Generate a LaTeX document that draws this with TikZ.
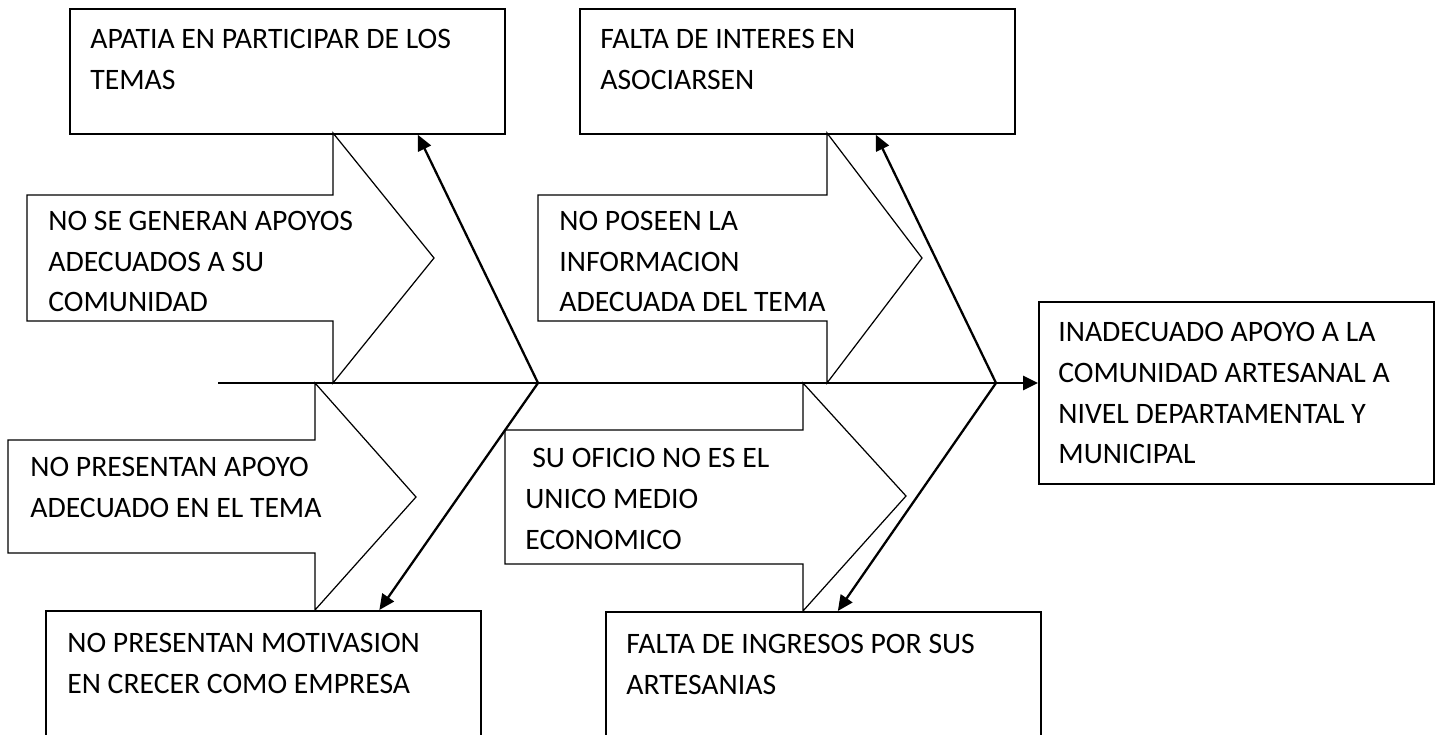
\documentclass[tikz,border=0pt]{standalone}
\usepackage{fontspec}
\setmainfont{Carlito}
\usetikzlibrary{arrows.meta,calc}

\begin{document}
\begin{tikzpicture}[x=0.02cm, y=-0.02cm,
  caja/.style={shape=rectangle, draw=black, line width=1pt, anchor=north west, inner sep=0, minimum width=8.7cm, minimum height=2.5cm},
  texto/.style={anchor=north west, inner sep=0, align=left, font=\fontsize{16.9}{23.3}\selectfont},
  flecha/.style={draw=black, line width=0.7pt, line join=miter},
  espina/.style={-{Triangle[length=0.31cm, width=0.28cm]}, line width=1.3pt, draw=black}]
\useasboundingbox (0,0) rectangle (1437,734);
% cajas
\node[caja] (A) at (69,8) {};
\node[caja] (B) at (579,8) {};
\node[caja] (C) at (45,610) {};
\node[caja] (D) at (605,611) {};
\node[caja, minimum width=7.9cm, minimum height=3.64cm] (E) at (1038,301) {};
% flechas de causas
\draw[flecha] (333,133) -- (434,258) -- (333,383) -- (333,321) -- (27,321) -- (27,195) -- (333,195) -- cycle;
\draw[flecha] (827,133) -- (922,258) -- (827,383) -- (827,321) -- (538,321) -- (538,195) -- (827,195) -- cycle;
\draw[flecha] (315,383) -- (416,497) -- (315,610) -- (315,553) -- (8,553) -- (8,440) -- (315,440) -- cycle;
\draw[flecha] (803,383) -- (906,496) -- (803,611) -- (803,564) -- (505,564) -- (505,430) -- (803,430) -- cycle;
% textos
\node[texto] (tA) at (90,28.5) {APATIA EN PARTICIPAR DE LOS\\TEMAS};
\node[texto] (tB) at (600,28.5) {FALTA DE INTERES EN\\ASOCIARSEN};
\node[texto] (tC) at (67,632.5) {NO PRESENTAN MOTIVASION\\EN CRECER COMO EMPRESA};
\node[texto] (tD) at (626,633.5) {FALTA DE INGRESOS POR SUS\\ARTESANIAS};
\node[texto] (tE) at (1058,321.5) {INADECUADO APOYO A LA\\COMUNIDAD ARTESANAL A\\NIVEL DEPARTAMENTAL Y\\MUNICIPAL};
\node[texto] (t1) at (48,210.5) {NO SE GENERAN APOYOS\\ADECUADOS A SU\\COMUNIDAD};
\node[texto] (t2) at (559,210.5) {NO POSEEN LA\\INFORMACION\\ADECUADA DEL TEMA};
\node[texto] (t3) at (30,456.5) {NO PRESENTAN APOYO\\ADECUADO EN EL TEMA};
\node[texto] (t4) at (525,447.5) {\hspace*{0.14cm}SU OFICIO NO ES EL\\UNICO MEDIO\\ECONOMICO};
% espina
\coordinate (cola) at (218,383);
\coordinate (j1) at (538,383);
\coordinate (j2) at (996,383);
\path (cola) edge[espina, line width=1.6pt, -{Triangle[length=0.3cm, width=0.28cm]}] (j1 -| E.west);
\path (j1) edge[espina] ($(A.south)+(130.5,0)$);
\path (j1) edge[espina] ($(C.north)+(116,0)$);
\path (j2) edge[espina] ($(B.south)+(78.5,0)$);
\path (j2) edge[espina] ($(D.north)+(14.5,0)$);
\end{tikzpicture}
\end{document}
